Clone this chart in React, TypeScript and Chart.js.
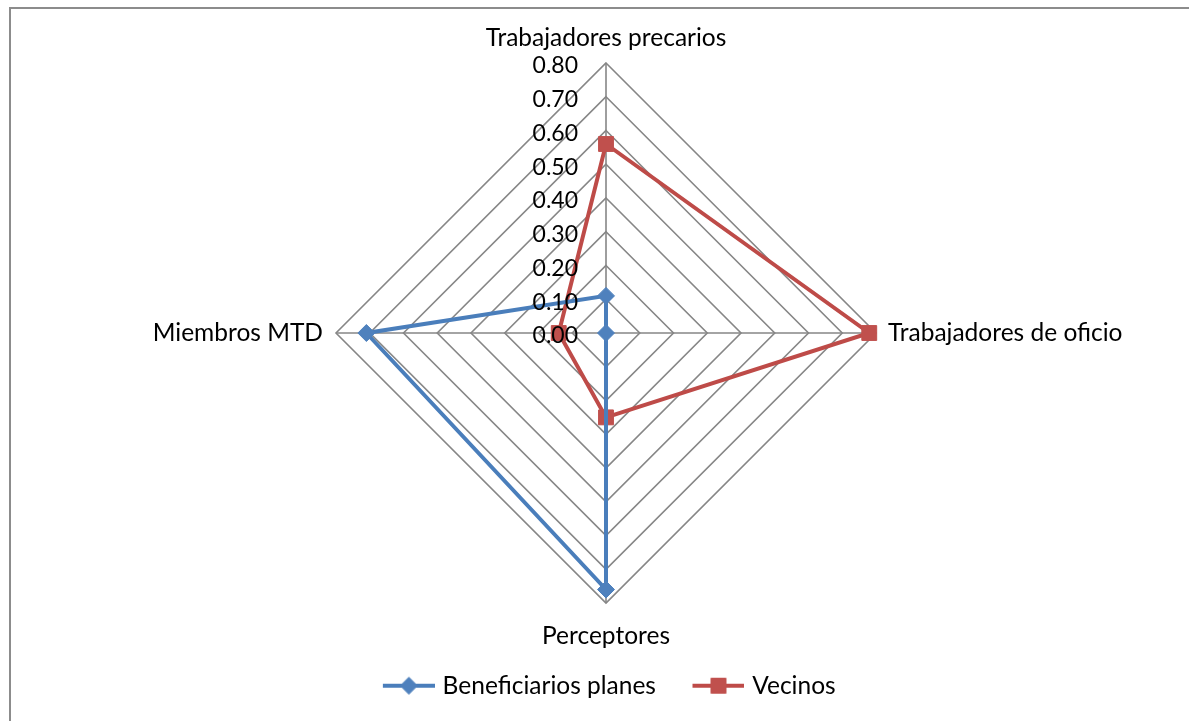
import React, { useEffect, useRef } from 'react';
import { Chart, registerables } from 'chart.js';

Chart.register(...registerables);

// ---- data ----
const categories = ['Trabajadores precarios', 'Trabajadores de oficio', 'Perceptores', 'Miembros MTD'];
const seriesNames = ['Beneficiarios planes', 'Vecinos'];
const beneficiariosPlanes = [0.11, 0.0, 0.76, 0.71];
const vecinos = [0.56, 0.78, 0.25, 0.14];
const tickValues = [0, 0.1, 0.2, 0.3, 0.4, 0.5, 0.6, 0.7, 0.8];
const tickLabels = ['0.00', '0.10', '0.20', '0.30', '0.40', '0.50', '0.60', '0.70', '0.80'];

// ---- style ----
const FONT = 'Lato';
const TICK_FONT_SIZE = 23;
const LABEL_FONT_SIZE = 24.5;
const BLUE = '#4A7EBB';
const BLUE_MARK = '#4F81BD';
const RED = '#BE4B48';
const RED_MARK = '#C0504D';
const GRID = '#868686';
const CANVAS_W = 1212;
const CANVAS_H = 721;
const LEGEND_BOX = 74;
const LEGEND_SHIFT = -10;
const POINT_LABEL_PADDING = [1.5, 12, 9.5, 13];

function makeLegendIcon(color: string, mark: string, style: 'diamond' | 'square') {
  const w = LEGEND_BOX + 9;
  const h = 22;
  const c = document.createElement('canvas');
  c.width = w;
  c.height = h;
  const ctx = c.getContext('2d')!;
  const x1 = w - 52;
  const x2 = w;
  const cy = h / 2;
  const cx = (x1 + x2) / 2;
  ctx.strokeStyle = color;
  ctx.lineWidth = 4;
  ctx.beginPath();
  ctx.moveTo(x1, cy);
  ctx.lineTo(x2, cy);
  ctx.stroke();
  ctx.fillStyle = mark;
  ctx.strokeStyle = mark;
  ctx.lineWidth = 1;
  ctx.beginPath();
  if (style === 'diamond') {
    ctx.moveTo(cx, cy - 8.5);
    ctx.lineTo(cx + 8.5, cy);
    ctx.lineTo(cx, cy + 8.5);
    ctx.lineTo(cx - 8.5, cy);
    ctx.closePath();
  } else {
    ctx.rect(cx - 7.5, cy - 7.5, 15, 15);
  }
  ctx.fill();
  ctx.stroke();
  return c;
}

const tickLabelPlugin = {
  id: 'tickLabelPlugin',
  afterDatasetsDraw(chart: any) {
    const s = chart.scales.r;
    const ctx = chart.ctx;
    ctx.save();
    ctx.font = `${TICK_FONT_SIZE}px ${FONT}`;
    ctx.fillStyle = '#000';
    ctx.textAlign = 'right';
    ctx.textBaseline = 'middle';
    tickValues.forEach((v, i) => {
      const d = s.getDistanceFromCenterForValue(v);
      ctx.fillText(tickLabels[i], s.xCenter - 28, s.yCenter - d + 3);
    });
    ctx.restore();
  },
};

const legendShiftPlugin = {
  id: 'legendShiftPlugin',
  afterLayout(chart: any) {
    if (chart.legend) {
      chart.legend.left += LEGEND_SHIFT;
      chart.legend.right += LEGEND_SHIFT;
    }
  },
};

export default function App() {
  const ref = useRef<HTMLCanvasElement | null>(null);

  useEffect(() => {
    if (!ref.current) return;
    const icons = [makeLegendIcon(BLUE, BLUE_MARK, 'diamond'), makeLegendIcon(RED, RED_MARK, 'square')];
    const chart = new Chart(ref.current, {
      type: 'radar',
      data: {
        labels: categories,
        datasets: [
          {
            label: seriesNames[0],
            data: beneficiariosPlanes,
            borderColor: BLUE,
            backgroundColor: BLUE_MARK,
            borderWidth: 4,
            fill: false,
            pointStyle: 'rectRot',
            pointRadius: 8.5,
            pointBackgroundColor: BLUE_MARK,
            pointBorderColor: BLUE_MARK,
            pointBorderWidth: 1,
          },
          {
            label: seriesNames[1],
            data: vecinos,
            borderColor: RED,
            backgroundColor: RED_MARK,
            borderWidth: 4,
            fill: false,
            pointStyle: 'rect',
            pointRadius: 10.5,
            pointBackgroundColor: RED_MARK,
            pointBorderColor: RED_MARK,
            pointBorderWidth: 1,
          },
        ],
      },
      options: {
        responsive: false,
        animation: false,
        layout: { padding: { top: 10.5, bottom: 13, left: 0, right: 0 } },
        elements: { line: { tension: 0 } },
        scales: {
          r: {
            min: 0,
            max: 0.8,
            ticks: { stepSize: 0.1, display: false },
            grid: { color: GRID, lineWidth: 1.6, circular: false },
            angleLines: { color: GRID, lineWidth: 1.6 },
            pointLabels: {
              color: '#000',
              font: { family: FONT, size: LABEL_FONT_SIZE, lineHeight: '47px' },
              padding: (ctx: any) => POINT_LABEL_PADDING[ctx.index],
            },
          },
        },
        plugins: {
          tooltip: { enabled: false },
          legend: {
            position: 'bottom',
            labels: {
              color: '#000',
              font: { family: FONT, size: LABEL_FONT_SIZE },
              usePointStyle: true,
              pointStyleWidth: LEGEND_BOX,
              padding: 10,
              generateLabels: (c: any) =>
                Chart.defaults.plugins.legend.labels.generateLabels(c).map((item: any, i: number) => ({
                  ...item,
                  pointStyle: icons[i],
                })),
            },
          },
        },
      },
      plugins: [tickLabelPlugin, legendShiftPlugin],
    });
    return () => chart.destroy();
  }, []);

  return (
    <div
      style={{
        position: 'fixed',
        left: 0,
        top: 0,
        width: 1189,
        height: 721,
        overflow: 'hidden',
        background: '#fff',
      }}
    >
      <div
        style={{
          position: 'absolute',
          left: 9,
          top: 7,
          right: 0,
          bottom: 0,
          borderTop: '2px solid #8c8c8c',
          borderLeft: '2px solid #8c8c8c',
        }}
      />
      <canvas
        ref={ref}
        width={CANVAS_W}
        height={CANVAS_H}
        style={{ position: 'absolute', left: 0, top: 0, width: CANVAS_W, height: CANVAS_H }}
      />
    </div>
  );
}
